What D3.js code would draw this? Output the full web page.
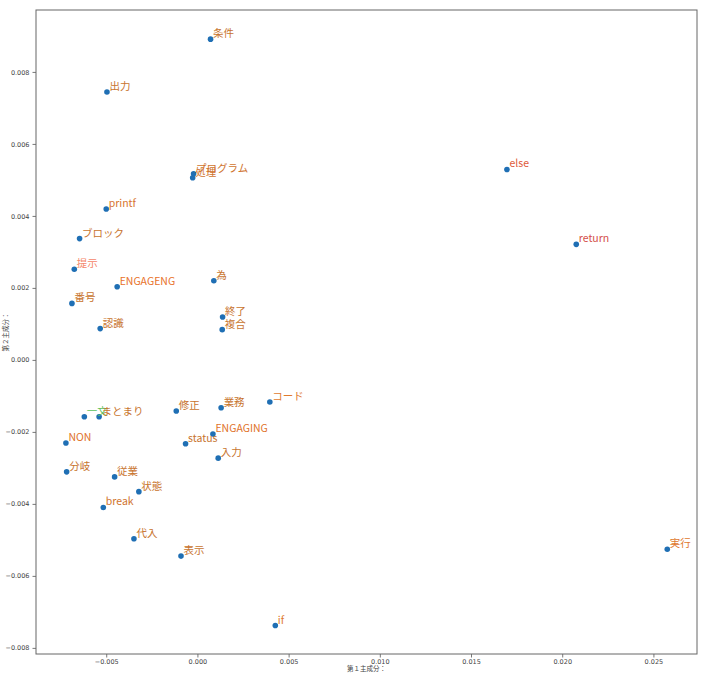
<!DOCTYPE html>
<html><head><meta charset="utf-8">
<script src="https://cdn.jsdelivr.net/npm/d3@7"></script>
<style>body{margin:0;background:#fff}</style>
</head><body>
<svg id="c" width="710" height="675"></svg>
<script>
const labels = ["条件","出力","プログラム","処理","printf","ブロック","提示","ENGAGENG","番号","認識","為","終了","複合","else","return","実行","if","コード","修正","業務","一文","まとまり","ENGAGING","status","入力","NON","分岐","従業","状態","break","代入","表示"];
const xs = [0.00072,-0.00496,-0.00021,-0.00026,-0.0050,-0.00646,-0.00675,-0.0044,-0.00688,-0.00533,0.0009,0.00138,0.00136,0.01697,0.02077,0.02576,0.00427,0.00397,-0.00116,0.0013,-0.0062,-0.00539,0.00085,-0.00065,0.00114,-0.00721,-0.00717,-0.00454,-0.00321,-0.00516,-0.00348,-0.0009];
const ys = [0.00891,0.00744,0.00517,0.00506,0.00419,0.00337,0.00252,0.00203,0.00157,0.00087,0.0022,0.00119,0.00084,0.00529,0.00321,-0.00526,-0.00738,-0.00117,-0.00142,-0.00133,-0.00158,-0.00158,-0.00206,-0.00233,-0.00273,-0.00231,-0.00311,-0.00325,-0.00366,-0.0041,-0.00497,-0.00545];
const labelColors = ["#c8742e","#c8742e","#d0742e","#d0742e","#d8742e","#c8742e","#f5866a","#e8722a","#c8742e","#c8742e","#c8742e","#c8742e","#c8742e","#e05a3a","#d4504a","#e0782e","#e07a2e","#e07a2e","#c8742e","#c8742e","#5cbf5c","#c8742e","#e0722a","#c8742e","#c8742e","#e0722a","#c8742e","#c8742e","#c8742e","#d0742e","#c8742e","#c8742e"];
const xTicks = [-0.005,0,0.005,0.01,0.015,0.02,0.025];
const yTicks = [-0.008,-0.006,-0.004,-0.002,0,0.002,0.004,0.006,0.008];

const svg = d3.select("#c");
const L=36,R=697,T=10,B=654;
const x = d3.scaleLinear().domain([-0.00885,0.02739]).range([L,R]);
const y = d3.scaleLinear().domain([-0.00817,0.00972]).range([B,T]);
const fmt = d => d3.format(".3f")(d).replace("-","\u2212");

const gx = svg.append("g").attr("transform",`translate(0,${B})`)
  .call(d3.axisBottom(x).tickValues(xTicks).tickFormat(fmt).tickSize(3.5).tickPadding(1.5));
const gy = svg.append("g").attr("transform",`translate(${L},0)`)
  .call(d3.axisLeft(y).tickValues(yTicks).tickFormat(fmt).tickSize(3.5).tickPadding(3));
[gx,gy].forEach(g=>{
  g.select(".domain").remove();
  g.selectAll("line").attr("stroke","#555").attr("stroke-width",0.8);
  g.selectAll("text").attr("fill","#444").style("font-family","DejaVu Sans").style("font-size","6.5px");
});
svg.append("rect").attr("x",L).attr("y",T).attr("width",R-L).attr("height",B-T)
  .attr("fill","none").attr("stroke","#666").attr("stroke-width",1);

svg.append("text").attr("x",(L+R)/2).attr("y",671).attr("text-anchor","middle")
  .style("font-family","Noto Sans CJK JP").style("font-size","6.5px").attr("fill","#444").text("第１主成分：");
svg.append("text").attr("transform",`translate(8,${(T+B)/2}) rotate(-90)`).attr("text-anchor","middle")
  .style("font-family","Noto Sans CJK JP").style("font-size","6.5px").attr("fill","#444").text("第２主成分：");

const idx = d3.range(labels.length);
svg.append("g").selectAll("circle").data(idx).join("circle")
  .attr("cx",i=>x(xs[i])).attr("cy",i=>y(ys[i])).attr("r",2.8).attr("fill","#1f6fb4");
svg.append("g").selectAll("text").data(idx).join("text")
  .attr("x",i=>x(xs[i])+2.5).attr("y",i=>y(ys[i])-2)
  .style("font-family","Noto Sans CJK JP").style("font-size","10.5px")
  .attr("fill",i=>labelColors[i]).text(i=>labels[i]);
</script>
</body></html>
